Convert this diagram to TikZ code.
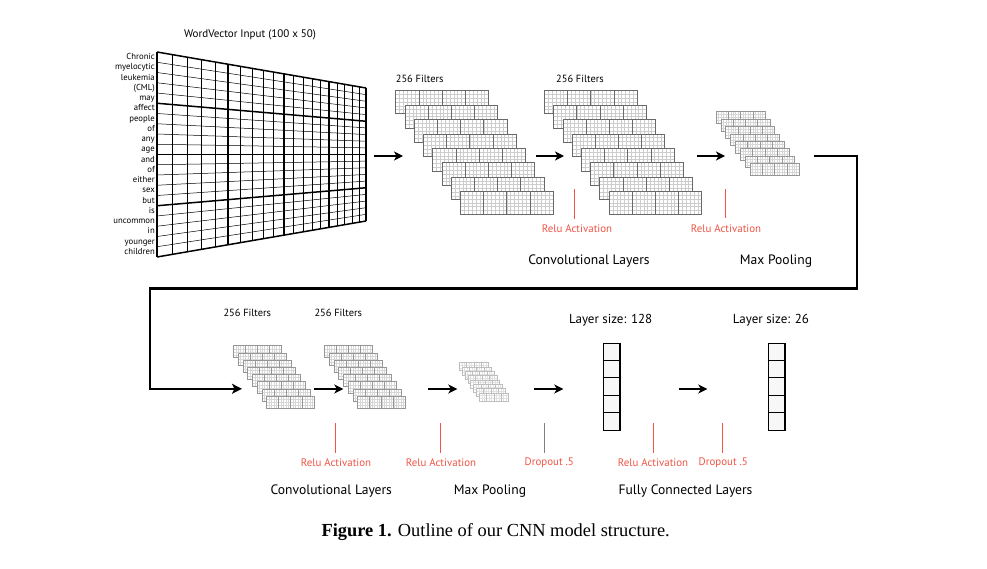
\documentclass[tikz,border=0pt]{standalone}
\usepackage{fontspec}
\setmainfont{Liberation Serif}
\newfontfamily\labfont{PT Sans}
\usetikzlibrary{arrows.meta}
\definecolor{relured}{RGB}{240,85,70}
\definecolor{fineA}{RGB}{205,205,205}
\definecolor{bordA}{RGB}{105,105,105}
\definecolor{fineB}{RGB}{215,215,215}
\definecolor{bordB}{RGB}{150,150,150}
\definecolor{fineC}{RGB}{225,225,225}
\definecolor{bordC}{RGB}{190,190,190}
\definecolor{fcfill}{RGB}{247,247,247}
\newcommand\fmcard[8]{%
  \fill[white] (#1,#2) rectangle ++(#3,#4);
  \foreach \k in {1,...,#5} \draw[color=#7,line width=0.25pt] ({#1+#3*\k/(#5+1)},#2) -- ++(0,#4);
  \foreach \k in {1,...,#6} \draw[color=#7,line width=0.25pt] (#1,{#2+#4*\k/(#6+1)}) -- ++(#3,0);
  \foreach \k in {1,2,3} \draw[color=#8,line width=0.5pt] ({#1+#3*\k/4},#2) -- ++(0,#4);
  \draw[color=#8,line width=0.5pt] (#1,#2) rectangle ++(#3,#4);
}
\newcommand\fmstack[8]{%
  \foreach \i in {0,...,7}{%
    \pgfmathsetmacro\cx{#1+\i*#3}\pgfmathsetmacro\cy{#2+\i*#4}%
    \fmcard{\cx}{\cy}{#5}{#6}{#7}{#8}{\fcol}{\bcol}}}
\tikzset{
  lab/.style={font=\labfont\fontsize{10.9}{12}\selectfont, inner sep=0pt},
  titlelab/.style={font=\labfont\fontsize{11}{13}\selectfont, inner sep=0pt},
  filtlab/.style={font=\labfont\fontsize{10.4}{12}\selectfont, inner sep=0pt, anchor=west},
  biglab/.style={font=\labfont\fontsize{13.6}{15}\selectfont, inner sep=0pt},
  sizelab/.style={font=\labfont\fontsize{13}{15}\selectfont, inner sep=0pt},
  wordlab/.style={font=\labfont\fontsize{8.7}{9}\selectfont, inner sep=0pt, anchor=east, text height=1.4ex, text depth=0.3ex},
  redlab/.style={lab, text=relured},
  tick/.style={line width=0.6pt, draw=relured},
  arr/.style={line width=2pt, -{Stealth[length=9pt,width=9pt,inset=2.5pt]}},
  conn/.style={line width=2.4pt, line join=miter, -{Stealth[length=10pt,width=10pt,inset=2.5pt]}},
}
\begin{document}
\begin{tikzpicture}[x=1pt,y=-1pt]
\useasboundingbox (0,0) rectangle (987,569);
\fill[white] (0,0) rectangle (987,569);
% ---------- input grid ----------
\fill[white] (157,52) -- (366,88) -- (366,221) -- (157,257) -- cycle;
\foreach \j in {0,...,20}{%
  \pgfmathsetmacro\vv{\j/20-0.5}%
  \pgfmathsetmacro\lw{mod(\j,5)==0 ? 1.5 : 0.5}%
  \draw[line width=\lw pt] (157,{154.5+\vv*205}) -- (366,{154.5+\vv*133});
}
\foreach \i in {0,...,20}{%
  \pgfmathsetmacro\tt{\i/20}%
  \pgfmathsetmacro\xx{157+209*\tt*1.541/(1+0.541*\tt)}%
  \pgfmathsetmacro\hh{205-72*(\xx-157)/209}%
  \pgfmathsetmacro\lw{mod(\i,5)==0 ? 1.5 : 0.5}%
  \draw[line width=\lw pt] (\xx,{154.5-\hh/2}) -- (\xx,{154.5+\hh/2});
}
\foreach \w [count=\j from 0] in {Chronic,myelocytic,leukemia,(CML),may,affect,people,of,any,age,and,of,either,sex,but,is,uncommon,in,younger,children}
  \node[wordlab] (w\j) at (155,{52+(\j+0.5)*10.25}) {\w};
\node[titlelab] (title) at (250,35) {WordVector Input (100 x 50)};
% ---------- row 1 stacks ----------
\def\fcol{fineA}\def\bcol{bordA}
\fmstack{395.7}{90.7}{9.23}{14.37}{92.7}{22.7}{23}{5}
\fmstack{544.3}{90.7}{9.23}{14.37}{92.7}{22.7}{23}{5}
\def\fcol{fineB}\def\bcol{bordB}
\fmstack{716}{111.7}{4.86}{7.37}{49}{11.7}{19}{3}
\node[filtlab] (f1) at (395.7,79) {256 Filters};
\node[filtlab] (f2) at (556,79) {256 Filters};
% row 1 arrows
\coordinate (a1s) at (374,156); \coordinate (a1e) at (403,156);
\coordinate (a2s) at (535.7,156); \coordinate (a2e) at (564,156);
\coordinate (a3s) at (696.7,156); \coordinate (a3e) at (725,156);
\draw[arr] (a1s) -- (a1e);
\draw[arr] (a2s) -- (a2e);
\draw[arr] (a3s) -- (a3e);
% row 1 ticks and labels
\coordinate (t1a) at (574.5,189); \coordinate (t1b) at (574.5,219);
\coordinate (t2a) at (725.3,189); \coordinate (t2b) at (725.3,218.5);
\draw[tick] (t1a) -- (t1b);
\draw[tick] (t2a) -- (t2b);
\node[redlab] (r1) at (577,229) {Relu Activation};
\node[redlab] (r2) at (726,229) {Relu Activation};
\node[biglab] (g1) at (589,261) {Convolutional Layers};
\node[biglab] (g2) at (776,261) {Max Pooling};
% ---------- connector ----------
\coordinate (c0) at (814,156);
\coordinate (c1) at (857,156);
\coordinate (c2) at (857,288.3);
\coordinate (c3) at (150,288.3);
\coordinate (c4) at (150,388.8);
\coordinate (c5) at (242,388.8);
\draw[conn] (c0) -- (c1) -- (c2) -- (c3) -- (c4) -- (c5);
% ---------- row 2 stacks ----------
\def\fcol{fineB}\def\bcol{bordB}
\fmstack{233.3}{345.7}{4.76}{7.2}{48}{12}{19}{3}
\fmstack{324.3}{345.7}{4.76}{7.2}{48}{12}{19}{3}
\def\fcol{fineC}\def\bcol{bordC}
\fmstack{459.3}{362.7}{2.86}{4.3}{29}{8}{11}{2}
\node[filtlab] (f3) at (223.3,313.3) {256 Filters};
\node[filtlab] (f4) at (314.3,313.3) {256 Filters};
% row 2 arrows
\coordinate (b2s) at (314,389); \coordinate (b2e) at (343.3,389);
\coordinate (b3s) at (428.3,389); \coordinate (b3e) at (457.3,389);
\coordinate (b4s) at (534.3,389); \coordinate (b4e) at (563.3,389);
\coordinate (b5s) at (678.7,389); \coordinate (b5e) at (707.3,389);
\draw[arr] (b2s) -- (b2e);
\draw[arr] (b3s) -- (b3e);
\draw[arr] (b4s) -- (b4e);
\draw[arr] (b5s) -- (b5e);
% fully connected layers
\foreach \bx/\nm in {602.7/fcA,767.7/fcB}{%
  \node[draw, line width=1.2pt, fill=fcfill, minimum width=16.6pt, minimum height=87.3pt, inner sep=0pt, anchor=north west] (\nm) at (\bx,342.7) {};
  \foreach \k in {1,...,4} \draw[line width=1pt] (\bx,{342.7+\k*87.3/5}) -- ++(16.6,0);
}
\node[sizelab] (ls1) at (610.7,320) {Layer size: 128};
\node[sizelab] (ls2) at (771,320) {Layer size: 26};
% row 2 ticks
\coordinate (u1a) at (335.7,423.3); \coordinate (u1b) at (335.7,453.3);
\coordinate (u2a) at (440.3,423.3); \coordinate (u2b) at (440.3,453.3);
\coordinate (u3a) at (544,423.3); \coordinate (u3b) at (544,453.3);
\coordinate (u4a) at (653.3,423.3); \coordinate (u4b) at (653.3,453.3);
\coordinate (u5a) at (722.7,423.3); \coordinate (u5b) at (722.7,453.3);
\draw[tick] (u1a) -- (u1b);
\draw[tick] (u2a) -- (u2b);
\draw[line width=0.6pt, draw=gray] (u3a) -- (u3b);
\draw[tick] (u4a) -- (u4b);
\draw[tick] (u5a) -- (u5b);
\node[redlab] (r3) at (336,463) {Relu Activation};
\node[redlab] (r4) at (441,463) {Relu Activation};
\node[redlab] (r5) at (549.3,463) {Dropout .5};
\node[redlab] (r6) at (653,463) {Relu Activation};
\node[redlab] (r7) at (723.3,463) {Dropout .5};
\node[biglab] (g3) at (331.3,491) {Convolutional Layers};
\node[biglab] (g4) at (490,491) {Max Pooling};
\node[biglab] (g5) at (685.5,491) {Fully Connected Layers};
% caption
\node[font=\fontsize{18.4}{20}\selectfont, inner sep=0pt] (cap) at (495.7,532) {\textbf{Figure 1.} Outline of our CNN model structure.};
\end{tikzpicture}
\end{document}
